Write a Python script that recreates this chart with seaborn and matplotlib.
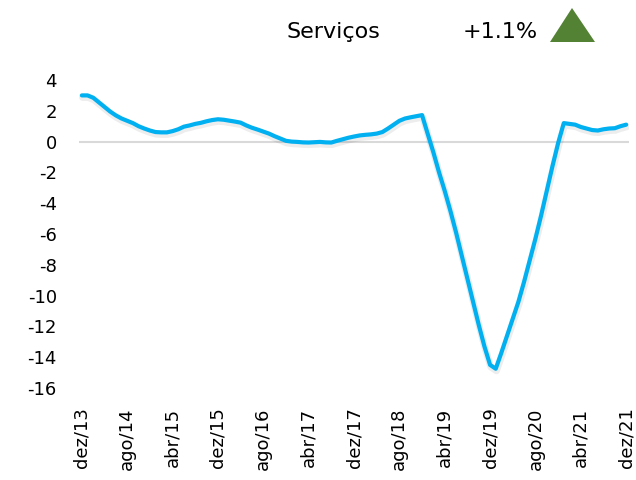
import matplotlib
matplotlib.use("Agg")
import matplotlib.pyplot as plt
import matplotlib.patheffects as pe
from matplotlib.patches import Polygon
import seaborn as sns
import pandas as pd
import numpy as np

# ---- data (monthly, dez/13 .. dez/21) ----
values = [
    3.0, 3.0, 2.85, 2.55, 2.25, 1.95, 1.7, 1.5, 1.35, 1.2,
    1.0, 0.85, 0.72, 0.62, 0.6, 0.6, 0.68, 0.8, 0.97, 1.05,
    1.15, 1.22, 1.32, 1.4, 1.45, 1.42, 1.36, 1.3, 1.23, 1.05,
    0.9, 0.78, 0.65, 0.52, 0.35, 0.2, 0.05, 0.0, -0.02, -0.05,
    -0.06, -0.04, -0.02, -0.05, -0.06, 0.05, 0.15, 0.25, 0.33, 0.4,
    0.44, 0.47, 0.52, 0.62, 0.85, 1.1, 1.35, 1.5, 1.58, 1.65,
    1.72, 0.5, -0.7, -2.0, -3.2, -4.5, -5.9, -7.4, -8.9, -10.4,
    -11.9, -13.3, -14.5, -14.75, -13.7, -12.6, -11.5, -10.4, -9.1, -7.7,
    -6.3, -4.8, -3.2, -1.6, -0.1, 1.2, 1.15, 1.1, 0.95, 0.85,
    0.75, 0.72, 0.8, 0.85, 0.87, 1.0, 1.1,
]
tick_labels = ["dez/13", "ago/14", "abr/15", "dez/15", "ago/16", "abr/17",
               "dez/17", "ago/18", "abr/19", "dez/19", "ago/20", "abr/21", "dez/21"]
y_ticks = [4, 2, 0, -2, -4, -6, -8, -10, -12, -14, -16]
title = "Serviços"
change_label = "+1.1%"

df = pd.DataFrame({"month": np.arange(len(values)), "value": values})

sns.set_theme(style="white")
plt.rcParams["font.family"] = ["DejaVu Sans"]

fig = plt.figure(figsize=(6.36, 4.8), dpi=100)
ax = fig.add_axes([79 / 636, 1 - 388 / 480, 550 / 636, 308 / 480])

ax.axhline(0, color="#D9D9D9", lw=1.5, zorder=1)
sns.lineplot(data=df, x="month", y="value", ax=ax, color="#00B0F0", lw=3.0,
             solid_capstyle="round", solid_joinstyle="round", zorder=3,
             path_effects=[pe.SimpleLineShadow(offset=(0.5, -1.5), shadow_color="#000000",
                                               alpha=0.07, linewidth=5),
                           pe.Normal()])

ax.set_xlim(-0.5, 96.5)
ax.set_ylim(-16, 4)
ax.set_xticks(np.arange(0, len(values), 8))
ax.set_xticklabels(tick_labels, rotation=90, fontsize=13, color="#000000")
ax.set_yticks(y_ticks)
ax.set_yticklabels([str(v) for v in y_ticks], fontsize=13, color="#000000")
ax.tick_params(axis="both", length=0)
ax.tick_params(axis="y", pad=16)
ax.tick_params(axis="x", pad=14)
ax.set_xlabel("")
ax.set_ylabel("")
for s in ax.spines.values():
    s.set_visible(False)

fig.text(333 / 636, 1 - 32 / 480, title, ha="center", va="center", fontsize=16, color="#000000")
fig.text(500 / 636, 1 - 32 / 480, change_label, ha="center", va="center", fontsize=16, color="#000000")
tri = Polygon([[550 / 636, 1 - 42 / 480], [595 / 636, 1 - 42 / 480], [572 / 636, 1 - 8 / 480]],
              closed=True, transform=fig.transFigure, facecolor="#548235", edgecolor="none")
fig.patches.append(tri)

fig.savefig("out.png", dpi=100, facecolor="white")
